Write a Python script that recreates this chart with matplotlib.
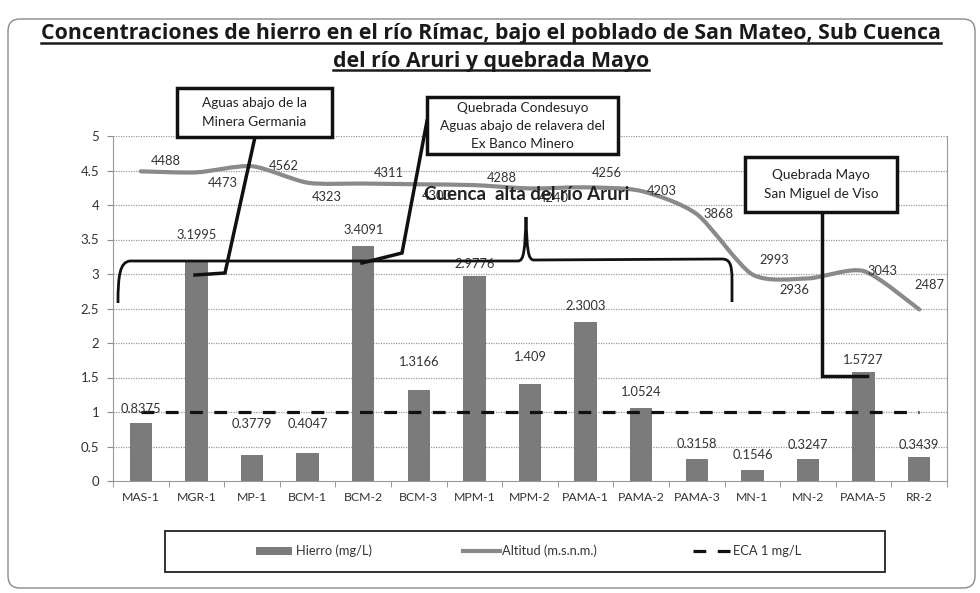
import matplotlib
matplotlib.use("Agg")
import matplotlib.pyplot as plt
import matplotlib.patches as mpatches
import matplotlib.transforms as mtransforms
from matplotlib.path import Path
from matplotlib.lines import Line2D
import numpy as np

# ---------------- data ----------------
categories = ["MAS-1", "MGR-1", "MP-1", "BCM-1", "BCM-2", "BCM-3", "MPM-1", "MPM-2",
              "PAMA-1", "PAMA-2", "PAMA-3", "MN-1", "MN-2", "PAMA-5", "RR-2"]
hierro = [0.8375, 3.1995, 0.3779, 0.4047, 3.4091, 1.3166, 2.9776, 1.409,
          2.3003, 1.0524, 0.3158, 0.1546, 0.3247, 1.5727, 0.3439]
altitud = [4488, 4473, 4562, 4323, 4311, 4300, 4288, 4240,
           4256, 4203, 3868, 2993, 2936, 3043, 2487]
eca = 1.0
yticks = [0, 0.5, 1, 1.5, 2, 2.5, 3, 3.5, 4, 4.5, 5]

# label offsets (pixels) - styling
hierro_lbl_dy = [14, 25, 31, 29, 16, 28, 12, 27, 16, 16, 15, 15, 14, 12, 12]
alt_lbl_off = [(25, 10), (26, -11), (32, 0), (19, -14), (26, 11), (18, -12), (27, 7),
               (24, -10), (21, 14), (21, 0), (22, 0), (22, 14), (-14, -12), (19, 0), (10, 24)]

W, H = 980, 593
FONT = "Lato"
plt.rcParams["font.family"] = [FONT, "DejaVu Sans"]

fig = plt.figure(figsize=(W / 100, H / 100), dpi=100)
fig.patch.set_facecolor("white")

def P(x, y):
    return (x / W, 1 - y / H)

# axes placement
ax_l, ax_r, ax_t, ax_b = 113, 947, 136, 481
ax = fig.add_axes([ax_l / W, 1 - ax_b / H, (ax_r - ax_l) / W, (ax_b - ax_t) / H])
ax.set_facecolor("none")

x = np.arange(len(categories))
ax.bar(x, hierro, width=0.4, color="#7b7b7b", zorder=2)

# smoothed altitude line (cardinal spline rendered as cubic Bezier path in data coords)
alt_k = np.array(altitud) / 1000.0
pts = np.column_stack([x, alt_k]).astype(float)
verts = [tuple(pts[0])]
codes = [Path.MOVETO]
n = len(pts)
for i in range(n - 1):
    p0 = pts[i - 1] if i > 0 else pts[i]
    p1 = pts[i]
    p2 = pts[i + 1]
    p3 = pts[i + 2] if i + 2 < n else pts[i + 1]
    c1 = p1 + (p2 - p0) / 8.0
    c2 = p2 - (p3 - p1) / 8.0
    verts += [tuple(c1), tuple(c2), tuple(p2)]
    codes += [Path.CURVE4] * 3
ax.add_patch(mpatches.PathPatch(Path(verts, codes), facecolor="none", edgecolor="#8a8a8a",
                                lw=3, zorder=3, capstyle="round"))
ax.plot([x[0], x[-1]], [eca, eca], color="#111111", lw=2.3, dashes=(4, 3.6), zorder=4)

ax.set_xlim(-0.5, len(categories) - 0.5)
ax.set_ylim(0, 5)
ax.set_yticks(yticks)
ax.set_yticklabels(["0", "0.5", "1", "1.5", "2", "2.5", "3", "3.5", "4", "4.5", "5"])
ax.set_xticks(x)
ax.set_xticklabels(categories)
ax.set_xticks(np.arange(-0.5, len(categories), 1), minor=True)
ax.tick_params(axis="x", which="major", length=0, pad=8, labelsize=8.8, labelcolor="#333333")
ax.tick_params(axis="x", which="minor", length=4, color="#888888", direction="out")
ax.tick_params(axis="y", length=4, color="#888888", direction="out", pad=6,
               labelsize=9.5, labelcolor="#333333")
for yv in yticks[1:]:
    ax.axhline(yv, color="#9a9a9a", lw=0.9, ls=(0, (1, 1)), zorder=1)
ax.spines["top"].set_visible(False)
ax.spines["right"].set_color("#9a9a9a")
ax.spines["right"].set_linestyle((0, (1, 1)))
ax.spines["left"].set_color("#999999")
ax.spines["bottom"].set_color("#999999")

# data labels
for xi, v, dy in zip(x, hierro, hierro_lbl_dy):
    ax.annotate(f"{v:g}", (xi, v), xytext=(0, dy), textcoords="offset pixels",
                ha="center", va="center", fontsize=9.3, color="#333333", zorder=6)
for xi, v, a, (dx, dy) in zip(x, alt_k, altitud, alt_lbl_off):
    ax.annotate(f"{a}", (xi, v), xytext=(dx, dy), textcoords="offset pixels",
                ha="center", va="center", fontsize=9.3, color="#333333", zorder=6)

# ---------------- annotations (figure pixel coordinates) ----------------
def fline(pts, lw=2.5, color="#111111"):
    xs = [P(*p)[0] for p in pts]
    ys = [P(*p)[1] for p in pts]
    fig.add_artist(Line2D(xs, ys, transform=fig.transFigure, color=color, lw=lw,
                          solid_joinstyle="miter", zorder=10))

def fbox(x0, y0, x1, y1, lines, ys, fs=9.8):
    r = mpatches.Rectangle(P(x0, y1), (x1 - x0) / W, (y1 - y0) / H, transform=fig.transFigure,
                           facecolor="white", edgecolor="#111111", lw=2.5, zorder=11)
    fig.add_artist(r)
    for t, yy in zip(lines, ys):
        fig.text(*P((x0 + x1) / 2, yy), t, ha="center", va="center", fontsize=fs,
                 color="#222222", zorder=12)

# callout 1
fline([(255, 137), (225, 273), (195, 275)])
fbox(177, 88, 332, 137, ["Aguas abajo de la", "Minera Germania"], [103, 122])
# callout 2
fline([(427, 121), (402, 253), (362, 263)])
fbox(427, 97, 618, 154, ["Quebrada Condesuyo", "Aguas abajo de relavera del", "Ex Banco Minero"],
     [108, 126, 144])
# callout 3
fline([(822, 212), (822, 376), (867, 376)])
fbox(745, 157, 897, 212, ["Quebrada Mayo", "San Miguel de Viso"], [175, 194])

# brace
verts_px = [(118, 303), (118, 275), (120, 262), (130, 261),
            (518, 261),
            (524, 261), (525, 250), (526, 217),
            (527, 250), (528, 260), (534, 260),
            (722, 259),
            (730, 259), (732, 265), (732, 280),
            (732, 302)]
bcodes = [Path.MOVETO, Path.CURVE4, Path.CURVE4, Path.CURVE4,
          Path.LINETO,
          Path.CURVE4, Path.CURVE4, Path.CURVE4,
          Path.CURVE4, Path.CURVE4, Path.CURVE4,
          Path.LINETO,
          Path.CURVE4, Path.CURVE4, Path.CURVE4,
          Path.LINETO]
bverts = [P(*v) for v in verts_px]
fig.add_artist(mpatches.PathPatch(Path(bverts, bcodes), transform=fig.transFigure,
                                  facecolor="none", edgecolor="#111111", lw=2, zorder=9))
fig.text(*P(527, 195), "Cuenca  alta del río Aruri", ha="center", va="center",
         fontsize=13.5, fontweight="bold", color="#222222", zorder=12)

# title with underline
renderer = fig.canvas.get_renderer()
for t, yy in [("Concentraciones de hierro en el río Rímac, bajo el poblado de San Mateo, Sub Cuenca", 34),
              ("del río Aruri y quebrada Mayo", 61)]:
    tx = fig.text(*P(491, yy), t, ha="center", va="center", fontsize=15.3, fontweight="bold",
                  color="#1a1a1a", family=["Open Sans", "DejaVu Sans"])
    bb = tx.get_window_extent(renderer)
    x0, x1 = bb.x0, bb.x1
    yline = bb.y0 + 2
    fig.add_artist(Line2D([x0 / W, x1 / W], [yline / H, yline / H], transform=fig.transFigure,
                          color="#1a1a1a", lw=1.8))

# legend box
fig.add_artist(mpatches.Rectangle(P(165, 572), (885 - 165) / W, (572 - 531) / H,
                                  transform=fig.transFigure, facecolor="white",
                                  edgecolor="#222222", lw=1.3, zorder=5))
ly = 551
fig.add_artist(mpatches.Rectangle(P(256, ly + 4), 36 / W, 8 / H, transform=fig.transFigure,
                                  facecolor="#7b7b7b", edgecolor="none", zorder=6))
fig.text(*P(296, ly), "Hierro (mg/L)", ha="left", va="center", fontsize=9.3, color="#333333", zorder=6)
fline([(463, ly), (500, ly)], lw=3, color="#8a8a8a")
fig.text(*P(502, ly), "Altitud (m.s.n.m.)", ha="left", va="center", fontsize=9.3, color="#333333", zorder=6)
fig.add_artist(Line2D([693 / W, 730 / W], [P(0, ly)[1]] * 2, transform=fig.transFigure,
                      color="#111111", lw=2.3, dashes=(4, 3.6), zorder=6))
fig.text(*P(733, ly), "ECA 1 mg/L", ha="left", va="center", fontsize=9.3, color="#333333", zorder=6)

# outer rounded border (display pixels)
fig.add_artist(mpatches.FancyBboxPatch((8, H - 588), 967, 569,
                                       boxstyle="round,pad=0,rounding_size=12",
                                       transform=mtransforms.IdentityTransform(),
                                       facecolor="none", edgecolor="#8a8a8a", lw=1, zorder=0))

fig.savefig("out.png", dpi=100)
